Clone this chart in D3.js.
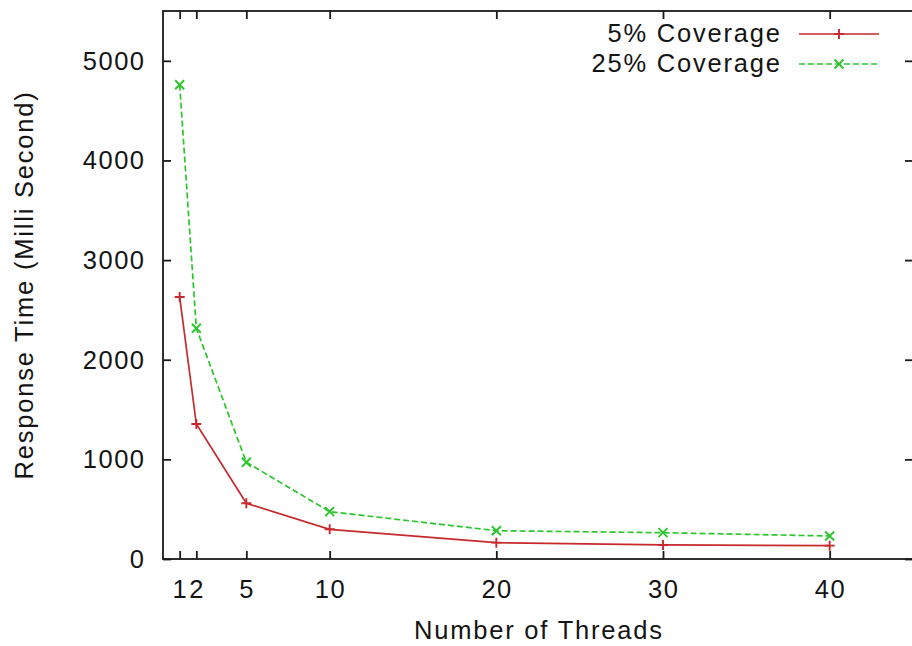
<!DOCTYPE html>
<html>
<head>
<meta charset="utf-8">
<script src="https://cdn.jsdelivr.net/npm/d3@7"></script>
<style>
  html, body { margin: 0; padding: 0; background: #fff; }
  svg { display: block; }
  text { font-family: "Liberation Sans", Arial, Helvetica, sans-serif; fill: #141414; }
</style>
</head>
<body>
<svg id="chart" width="912" height="646"></svg>
<script>
// ---- data ----
const threads = [1, 2, 5, 10, 20, 30, 40];
const coverage5 = [2630, 1355, 559, 298, 164, 141, 134];
const coverage25 = [4760, 2316, 971, 475, 284, 264, 231];
const seriesNames = ["5% Coverage", "25% Coverage"];
const xTicks = [1, 2, 5, 10, 20, 30, 40];
const yTicks = [0, 1000, 2000, 3000, 4000, 5000];
const xTitle = "Number of Threads";
const yTitle = "Response Time (Milli Second)";

(function () {
// ---- layout ----
const pLeft = 163, pRight = 913, pTop = 11, pBottom = 559;
const svg = d3.select("#chart");

const x = d3.scaleLinear().domain([0, 45]).range([pLeft, pRight]);
const y = d3.scaleLinear().domain([0, 5500]).range([pBottom, pTop]);

const axisColor = "#1a1a1a";
const tickLen = 8;
const fontSize = 25.5;
const colors = ["#c62a2c", "#2cc62c"];

// frame
svg.append("rect")
  .attr("x", pLeft).attr("y", pTop)
  .attr("width", pRight - pLeft).attr("height", pBottom - pTop)
  .attr("fill", "none").attr("stroke", axisColor).attr("stroke-width", 1.8);

function styleAxis(g) {
  g.select(".domain").remove();
  g.selectAll(".tick line").attr("stroke", axisColor).attr("stroke-width", 1.8);
  g.selectAll(".tick text").remove();
}
svg.append("g").attr("transform", `translate(0,${pBottom})`)
  .call(d3.axisBottom(x).tickValues(xTicks).tickSizeInner(-tickLen).tickSizeOuter(0)).call(styleAxis);
svg.append("g").attr("transform", `translate(0,${pTop})`)
  .call(d3.axisTop(x).tickValues(xTicks).tickSizeInner(-tickLen).tickSizeOuter(0)).call(styleAxis);
svg.append("g").attr("transform", `translate(${pLeft},0)`)
  .call(d3.axisLeft(y).tickValues(yTicks).tickSizeInner(-tickLen).tickSizeOuter(0)).call(styleAxis);
svg.append("g").attr("transform", `translate(${pRight},0)`)
  .call(d3.axisRight(y).tickValues(yTicks).tickSizeInner(-tickLen).tickSizeOuter(0)).call(styleAxis);

// tick labels
const numSpacing = 1.5;
svg.append("g").selectAll("text").data(xTicks).join("text")
  .attr("x", d => x(d) + numSpacing / 2).attr("y", 598)
  .attr("text-anchor", "middle")
  .style("font-size", fontSize + "px").style("letter-spacing", numSpacing + "px")
  .text(d => d);
svg.append("g").selectAll("text").data(yTicks).join("text")
  .attr("x", 144 + numSpacing).attr("y", d => y(d) + 9)
  .attr("text-anchor", "end")
  .style("font-size", fontSize + "px").style("letter-spacing", numSpacing + "px")
  .text(d => d);

// axis titles
const wordSpacing = 1.8;
svg.append("text")
  .attr("x", (pLeft + pRight) / 2 + wordSpacing / 2).attr("y", 639)
  .attr("text-anchor", "middle")
  .style("font-size", fontSize + "px").style("letter-spacing", wordSpacing + "px")
  .text(xTitle);
svg.append("text")
  .attr("transform", `translate(33,${(pTop + pBottom) / 2}) rotate(-90)`)
  .attr("text-anchor", "middle")
  .style("font-size", fontSize + "px").style("letter-spacing", wordSpacing + "px")
  .text(yTitle);

// series
const series = [coverage5, coverage25];
const dashes = [null, "6,3"];
const line = d3.line().x(d => x(d[0])).y(d => y(d[1]));

function marker(g, kind, cx, cy, color) {
  const s = 5;
  const p = kind === 0
    ? `M${cx - s},${cy}L${cx + s},${cy}M${cx},${cy - s}L${cx},${cy + s}`
    : `M${cx - 4.5},${cy - 4.5}L${cx + 4.5},${cy + 4.5}M${cx - 4.5},${cy + 4.5}L${cx + 4.5},${cy - 4.5}`;
  g.append("path").attr("d", p).attr("stroke", color).attr("stroke-width", 1.9).attr("fill", "none");
}

series.forEach((vals, i) => {
  const pts = threads.map((t, j) => [t, vals[j]]);
  svg.append("path")
    .attr("d", line(pts))
    .attr("fill", "none")
    .attr("stroke", colors[i])
    .attr("stroke-width", 1.7)
    .attr("stroke-dasharray", dashes[i]);
  const g = svg.append("g");
  pts.forEach(p => marker(g, i, x(p[0]), y(p[1]), colors[i]));
});

// legend
const legY = [34, 64];
seriesNames.forEach((name, i) => {
  svg.append("text")
    .attr("x", 780 + wordSpacing).attr("y", legY[i] + 8)
    .attr("text-anchor", "end")
    .style("font-size", fontSize + "px").style("letter-spacing", wordSpacing + "px")
    .text(name);
  svg.append("line")
    .attr("x1", 799).attr("x2", 879).attr("y1", legY[i]).attr("y2", legY[i])
    .attr("stroke", colors[i]).attr("stroke-width", 1.7)
    .attr("stroke-dasharray", dashes[i]);
  const g = svg.append("g");
  marker(g, i, 839, legY[i], colors[i]);
});
})();
</script>
</body>
</html>
